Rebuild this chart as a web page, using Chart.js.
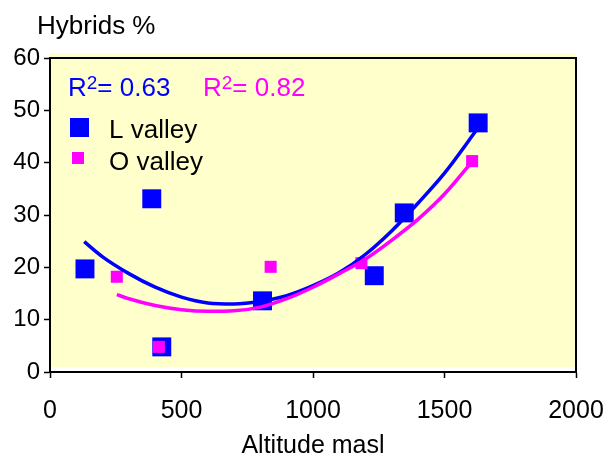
<!DOCTYPE html>
<html>
<head>
<meta charset="utf-8">
<script src="https://cdn.jsdelivr.net/npm/chart.js@4/dist/chart.umd.min.js"></script>
<style>
  html,body{margin:0;padding:0;background:#fff;}
  #wrap{position:relative;width:606px;height:459px;}
</style>
</head>
<body>
<div id="wrap"><canvas id="c" width="606" height="459"></canvas></div>
<script>
// Observed data
const lAltitude = [133, 387, 425, 808, 1233, 1347, 1628];
const lHybrids  = [19.7, 33.1, 4.8, 13.6, 18.4, 30.4, 47.6];
const oAltitude = [254, 414, 839, 1184, 1605];
const oHybrids  = [18.2, 4.8, 20.1, 20.8, 40.3];

// Trend lines
const lTrendX = [130, 200, 300, 400, 500, 600, 700, 800, 900, 1000, 1100, 1200, 1300, 1400, 1500, 1630];
const lTrendY = [24.9, 22.0, 18.8, 16.2, 14.3, 13.2, 13.0, 13.5, 14.6, 16.5, 19.0, 22.5, 27.0, 32.3, 38.0, 46.8];
const oTrendX = [254, 300, 400, 500, 600, 700, 800, 900, 1000, 1100, 1200, 1300, 1400, 1500, 1605];
const oTrendY = [14.8, 14.0, 12.7, 11.9, 11.6, 11.7, 12.4, 14.0, 16.2, 18.8, 21.6, 25.2, 29.2, 34.0, 40.2];

const xTicks = [0, 500, 1000, 1500, 2000];
const yTicks = [0, 10, 20, 30, 40, 50, 60];
const seriesNames = ['L valley', 'O valley'];
const r2Labels = ['0.63', '0.82'];

const BLUE = '#0000FF', MAG = '#FF00FF';
const FONT = '"Liberation Sans", Arial, sans-serif';

const pts = (xs, ys) => xs.map((x, i) => ({x, y: ys[i]}));

const decor = {
  id: 'decor',
  beforeDraw(chart) {
    const {ctx, chartArea: a} = chart;
    ctx.save();
    ctx.fillStyle = '#FFFFCC';
    ctx.fillRect(a.left - 1, a.top - 5, a.right - a.left + 1, a.bottom - a.top);
    ctx.restore();
  },
  afterDatasetsDraw(chart) {
    const {ctx, chartArea: a} = chart;
    ctx.save();
    ctx.strokeStyle = '#000';
    ctx.lineWidth = 2;
    ctx.beginPath();
    ctx.moveTo(a.left, a.top);
    ctx.lineTo(a.right, a.top);
    ctx.lineTo(a.right, a.bottom);
    ctx.stroke();
    // y title
    ctx.fillStyle = '#000';
    ctx.font = '26px ' + FONT;
    ctx.textBaseline = 'alphabetic';
    ctx.textAlign = 'left';
    ctx.fillText('Hybrids %', 37, 34);
    // R2 labels
    const drawR2 = (x, col, val) => {
      ctx.fillStyle = col;
      ctx.font = '26px ' + FONT;
      ctx.fillText('R', x, 96);
      let w = ctx.measureText('R').width;
      ctx.font = '19px ' + FONT;
      ctx.fillText('2', x + w, 89);
      w += ctx.measureText('2').width;
      ctx.font = '26px ' + FONT;
      ctx.fillText('= ' + val, x + w, 96);
    };
    drawR2(68, BLUE, r2Labels[0]);
    drawR2(203, MAG, r2Labels[1]);
    // legend
    ctx.fillStyle = BLUE;
    ctx.fillRect(70, 118, 19, 19);
    ctx.fillStyle = MAG;
    ctx.fillRect(72, 152, 12, 12);
    ctx.fillStyle = '#000';
    ctx.font = '26px ' + FONT;
    ctx.fillText(seriesNames[0], 109, 138);
    ctx.fillText(seriesNames[1], 109, 170);
    ctx.restore();
  }
};

new Chart(document.getElementById('c'), {
  type: 'scatter',
  data: {
    datasets: [
      {label: 'O trend', data: pts(oTrendX, oTrendY), showLine: true, borderColor: MAG, borderWidth: 3.5,
       pointRadius: 0, tension: 0.4, cubicInterpolationMode: 'monotone', order: 0},
      {label: 'L trend', data: pts(lTrendX, lTrendY), showLine: true, borderColor: BLUE, borderWidth: 3.5,
       pointRadius: 0, tension: 0.4, cubicInterpolationMode: 'monotone', order: 1},
      {label: seriesNames[1], data: pts(oAltitude, oHybrids), pointStyle: 'rect', pointRadius: 8.5,
       backgroundColor: MAG, borderWidth: 0, order: 2},
      {label: seriesNames[0], data: pts(lAltitude, lHybrids), pointStyle: 'rect', pointRadius: 13.4,
       backgroundColor: BLUE, borderWidth: 0, order: 3}
    ]
  },
  options: {
    responsive: false,
    animation: false,
    events: [],
    layout: {padding: {top: 58, right: 30, left: 0, bottom: 0}},
    plugins: {legend: {display: false}, tooltip: {enabled: false}, title: {display: false}},
    scales: {
      x: {
        type: 'linear', min: 0, max: 2000,
        afterBuildTicks: s => { s.ticks = xTicks.map(v => ({value: v})); },
        afterFit: s => { s.height = 87; s.paddingLeft = 0; s.paddingRight = 0; },
        grid: {drawOnChartArea: false, drawTicks: true, tickLength: 6, tickColor: '#000', tickWidth: 1.5},
        border: {display: true, color: '#000', width: 2},
        ticks: {color: '#000', font: {family: FONT, size: 25}, padding: 18, maxRotation: 0,
                callback: v => String(v)},
        title: {display: true, text: 'Altitude masl', color: '#000', font: {family: FONT, size: 25}, padding: {top: 0, bottom: -2}}
      },
      y: {
        type: 'linear', min: 0, max: 60,
        afterBuildTicks: s => { s.ticks = yTicks.map(v => ({value: v})); },
        afterFit: s => { s.width = 50; s.paddingTop = 0; s.paddingBottom = 0; },
        grid: {drawOnChartArea: false, drawTicks: true, tickLength: 6, tickColor: '#000', tickWidth: 1.5},
        border: {display: true, color: '#000', width: 2},
        ticks: {color: '#000', font: {family: FONT, size: 24}, padding: 4, callback: v => String(v)}
      }
    }
  },
  plugins: [decor]
});
</script>
</body>
</html>
